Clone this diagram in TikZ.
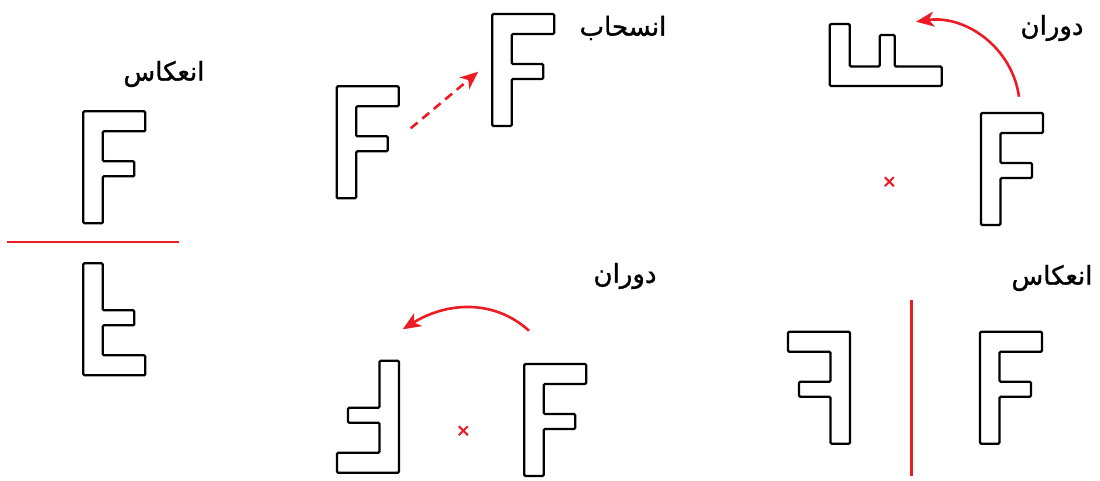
\documentclass[tikz,border=0pt]{standalone}
\usepackage{fontspec}
\newfontfamily\arabicfont[Script=Arabic,FakeBold=1.2]{DejaVu Sans}
\TeXXeTstate=1
\usetikzlibrary{arrows.meta}
\definecolor{figred}{RGB}{237,28,36}

\tikzset{
  letterF/.pic = {
    \draw[fline] (0,0) -- (0,112) -- (62,112) -- (62,92) -- (19.5,92)
      -- (19.5,62) -- (51,62) -- (51,47) -- (19.5,47) -- (19.5,0) -- cycle;
  },
}

\begin{document}
\begin{tikzpicture}[
  x=1pt, y=1pt,
  fline/.style   = {draw=black, line width=2.3pt, rounded corners=1.2pt},
  mirror/.style  = {draw=figred, line width=2.6pt},
  arr/.style     = {-{Stealth[length=18pt,width=15pt,inset=5pt]}, draw=figred,
                    line width=2.6pt},
  dasharr/.style = {arr, dash pattern=on 9pt off 6pt},
  cross/.style   = {draw=figred, line width=2pt},
  lbl/.style     = {font=\arabicfont\fontsize{26}{30}\selectfont,
                    inner sep=0pt},
]
\useasboundingbox (0,0) rectangle (1100,481);

% reflection in a horizontal line
\node[lbl] (lbl_refl_a) at (164,407) {\beginR انعکاس\endR};
\pic at (83.3,257.7) {letterF};
\pic[yscale=-1] at (83.3,217.7) {letterF};
\coordinate (mir_a1) at (7,239);
\coordinate (mir_a2) at (179,239);
\draw[mirror] (mir_a1) -- (mir_a2);

% translation
\node[lbl] (lbl_trans) at (623,453) {\beginR انسحاب\endR};
\pic at (336.7,282.7) {letterF};
\pic at (492.3,355) {letterF};
\coordinate (tr_from) at (410.7,352.7);
\coordinate (tr_to)   at (478.3,409.3);
\draw[dasharr] (tr_from) -- (tr_to);

% rotation by 90 degrees
\node[lbl] (lbl_rot_a) at (1052,453) {\beginR دوران\endR};
\pic at (981,256) {letterF};
\pic[rotate=90] at (941.7,395) {letterF};
\coordinate (rc_a) at (889.3,299.3);
\draw[cross] (rc_a) +(-4.5,-4.5) -- +(4.5,4.5) +(-4.5,4.5) -- +(4.5,-4.5);
\coordinate (rot_a1) at (1019,384.3);
\coordinate (rot_a2) at (916,459.3);
\draw[arr] (rot_a1) to[out=98, in=8] (rot_a2);

% rotation by 180 degrees
\node[lbl] (lbl_rot_b) at (625,205) {\beginR دوران\endR};
\pic at (524.3,5) {letterF};
\pic[rotate=180] at (399,120.3) {letterF};
\coordinate (rc_b) at (463.3,50.3);
\draw[cross] (rc_b) +(-4.5,-4.5) -- +(4.5,4.5) +(-4.5,4.5) -- +(4.5,-4.5);
\coordinate (rot_b1) at (529,150.3);
\coordinate (rot_b2) at (402.7,151.7);
\draw[arr] (rot_b1) to[out=138, in=32] (rot_b2);

% reflection in a vertical line
\node[lbl] (lbl_refl_b) at (1052,203) {\beginR انعکاس\endR};
\pic at (980,37.3) {letterF};
\pic[xscale=-1] at (850,37.3) {letterF};
\coordinate (mir_b1) at (911.7,181);
\coordinate (mir_b2) at (911.7,5);
\draw[mirror] (mir_b1) -- (mir_b2);
\end{tikzpicture}
\end{document}
